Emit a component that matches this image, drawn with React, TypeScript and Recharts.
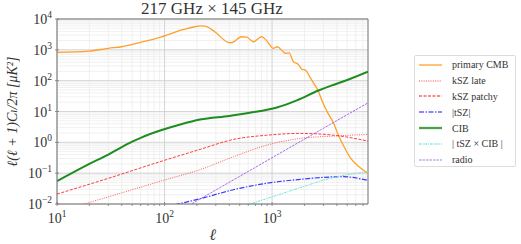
import React from 'react';
import {
  LineChart,
  Line,
  XAxis,
  YAxis,
  CartesianGrid,
  ReferenceLine,
} from 'recharts';

// multipoles and D_l values (uK^2)
const cmbL = [10, 20, 30, 40, 60, 94, 145, 192, 215, 237, 293, 390, 420, 520, 580, 670, 800, 890, 1030, 1120, 1250, 1340, 1440, 1580, 1750, 1900, 2040, 2250, 2450, 2700, 2900, 3300, 3720, 4140, 4600, 5330, 6300, 7800];
const cmbV = [830, 910, 1120, 1260, 1750, 2650, 4400, 5600, 5950, 5900, 3870, 1750, 1700, 2660, 2600, 1830, 2660, 1990, 1120, 1260, 910, 770, 800, 410, 340, 233, 220, 130, 80, 45, 23, 9, 4.3, 1.7, 0.8, 0.32, 0.17, 0.1];

const kszLateL = [17, 50, 100, 214, 437, 890, 1830, 3750, 7800];
const kszLateV = [0.0095, 0.029, 0.06, 0.13, 0.34, 0.81, 1.34, 1.6, 1.8];

const kszPatchyL = [10, 30, 94, 214, 437, 890, 1830, 3750, 7800];
const kszPatchyV = [0.021, 0.068, 0.245, 0.59, 1.24, 1.7, 1.95, 1.7, 1.1];

const tszL = [125, 214, 437, 890, 1830, 3750, 4500, 7800];
const tszV = [0.0095, 0.0148, 0.029, 0.047, 0.063, 0.076, 0.077, 0.058];

const cibL = [10, 20, 30, 40, 50, 60, 94, 140, 214, 400, 620, 1110, 1700, 2700, 3500, 5000, 7800];
const cibV = [0.055, 0.2, 0.4, 0.7, 1.05, 1.4, 2.5, 3.8, 5.5, 7.2, 9.1, 13.5, 23, 48, 68, 105, 195];

const tszCibL = [590, 1000, 1830, 3750, 7800];
const tszCibV = [0.0095, 0.017, 0.034, 0.073, 0.11];

const radioL = [180, 300, 500, 1000, 2000, 3000, 5000, 7800];
const radioV = [0.0103, 0.0285, 0.079, 0.317, 1.27, 2.85, 7.9, 19];

const xMajor = [10, 100, 1000];
const yMajor = [0.01, 0.1, 1, 10, 100, 1000, 10000];
const xTicks = [10, 20, 30, 40, 50, 60, 70, 80, 90, 100, 200, 300, 400, 500, 600, 700, 800, 900, 1000, 2000, 3000, 4000, 5000, 6000, 7000];
const yTicks = [
  0.01, 0.02, 0.03, 0.04, 0.05, 0.06, 0.07, 0.08, 0.09,
  0.1, 0.2, 0.3, 0.4, 0.5, 0.6, 0.7, 0.8, 0.9,
  1, 2, 3, 4, 5, 6, 7, 8, 9,
  10, 20, 30, 40, 50, 60, 70, 80, 90,
  100, 200, 300, 400, 500, 600, 700, 800, 900,
  1000, 2000, 3000, 4000, 5000, 6000, 7000, 8000, 9000,
  10000,
];

const zip = (l: number[], v: number[]) => l.map((x, i) => ({ l: x, v: v[i] }));

const series = [
  { name: 'primary CMB', data: zip(cmbL, cmbV), color: '#ffa02a', width: 1.3, dash: undefined },
  { name: 'kSZ late', data: zip(kszLateL, kszLateV), color: '#ff5a5a', width: 1, dash: '1 1.3' },
  { name: 'kSZ patchy', data: zip(kszPatchyL, kszPatchyV), color: '#ff3c3c', width: 1, dash: '3 1.5' },
  { name: '|tSZ|', data: zip(tszL, tszV), color: '#3a3aff', width: 1.2, dash: '5 1.5 1.5 1.5' },
  { name: 'CIB', data: zip(cibL, cibV), color: '#1e8c1e', width: 2, dash: undefined },
  { name: '| tSZ × CIB |', data: zip(tszCibL, tszCibV), color: '#6fe3da', width: 1, dash: '2.5 1 1 1' },
  { name: 'radio', data: zip(radioL, radioV), color: '#9d5ce8', width: 0.9, dash: '2.5 1' },
];

const FONT = '"Liberation Serif", "DejaVu Serif", serif';

const isMajor = (v: number) => Math.abs(Math.log10(v) - Math.round(Math.log10(v))) < 1e-6;

const XTick = (props: any) => {
  const { x, y, payload } = props;
  const v = payload.value;
  const major = isMajor(v);
  return (
    <g>
      <line x1={x} x2={x} y1={y} y2={y - (major ? 4 : 2)} stroke="#777" strokeWidth={0.8} />
      {major && (
        <text x={x} y={y + 17} textAnchor="middle" fontFamily={FONT} fontSize={14} fill="#333">
          10
          <tspan dy={-6} fontSize={9.5}>{Math.round(Math.log10(v))}</tspan>
        </text>
      )}
    </g>
  );
};

const YTick = (props: any) => {
  const { x, y, payload } = props;
  const v = payload.value;
  const major = isMajor(v);
  if (!major) return <g />;
  const e = Math.round(Math.log10(v));
  return (
    <g>
      <line x1={x} x2={x + 4} y1={y} y2={y} stroke="#777" strokeWidth={0.8} />
      <text x={x - 3} y={y + 5} textAnchor="end" fontFamily={FONT} fontSize={14} fill="#333">
        10
        <tspan dy={-6} fontSize={9.5}>{e < 0 ? '\u2212' + Math.abs(e) : e}</tspan>
      </text>
    </g>
  );
};

const LegendBox = () => (
  <div
    style={{
      position: 'absolute',
      left: 414,
      top: 55,
      width: 102,
      height: 112,
      border: '1px solid #dcdcdc',
      borderRadius: 2,
      background: '#fff',
      fontFamily: FONT,
      fontSize: 10,
      color: '#333',
      boxSizing: 'border-box',
      paddingTop: 1,
    }}
  >
    {series.map((s) => (
      <div key={s.name} style={{ height: 15.8, display: 'flex', alignItems: 'center' }}>
        <svg width={34} height={6} style={{ marginLeft: 3 }}>
          <line x1={1} x2={24} y1={3} y2={3} stroke={s.color} strokeWidth={s.width + 0.3} strokeDasharray={s.dash} opacity={0.8} />
        </svg>
        <span style={{ whiteSpace: 'nowrap' }}>{s.name}</span>
      </div>
    ))}
  </div>
);

export default function App() {
  return (
    <div style={{ position: 'absolute', left: 0, top: 0, width: 521, height: 244, background: '#fff' }}>
      <LineChart width={521} height={244} margin={{ top: 19, right: 153, bottom: 0, left: 0 }}>
        <CartesianGrid stroke="#ececec" strokeWidth={0.8} />
        <XAxis
          dataKey="l"
          type="number"
          scale="log"
          domain={[10, 7800]}
          allowDataOverflow
          ticks={xTicks}
          interval={0}
          tick={<XTick />}
          tickLine={false}
          tickSize={0}
          axisLine={{ stroke: '#777' }}
          height={40}
          label={{ value: 'ℓ', position: 'insideBottom', offset: 4, style: { fontFamily: FONT, fontStyle: 'italic', fontSize: 16, fill: '#333' } }}
        />
        <YAxis
          type="number"
          scale="log"
          domain={[0.01, 10000]}
          allowDataOverflow
          ticks={yTicks}
          interval={0}
          tick={<YTick />}
          tickLine={false}
          tickSize={0}
          axisLine={{ stroke: '#777' }}
          width={57}
          label={{
            value: 'ℓ(ℓ + 1)Cₗ/2π  [μK²]',
            angle: -90,
            position: 'insideLeft',
            offset: 12,
            dy: 0,
            style: { fontFamily: FONT, fontStyle: 'italic', fontSize: 14, fill: '#333', textAnchor: 'middle' },
          }}
        />
        {xMajor.map((v) => (
          <ReferenceLine key={'x' + v} x={v} stroke="#cfcfcf" strokeWidth={0.8} />
        ))}
        {yMajor.map((v) => (
          <ReferenceLine key={'y' + v} y={v} stroke="#cfcfcf" strokeWidth={0.8} />
        ))}
        <ReferenceLine y={10000} stroke="#777" />
        <ReferenceLine x={7800} stroke="#777" />
        {series.map((s) => (
          <Line
            key={s.name}
            data={s.data}
            dataKey="v"
            type="monotone"
            stroke={s.color}
            strokeWidth={s.width}
            strokeDasharray={s.dash}
            dot={false}
            isAnimationActive={false}
          />
        ))}
        <text x={212} y={14} textAnchor="middle" fontFamily={FONT} fontSize={17} fill="#333">
          217 GHz × 145 GHz
        </text>
      </LineChart>
      <LegendBox />
    </div>
  );
}
